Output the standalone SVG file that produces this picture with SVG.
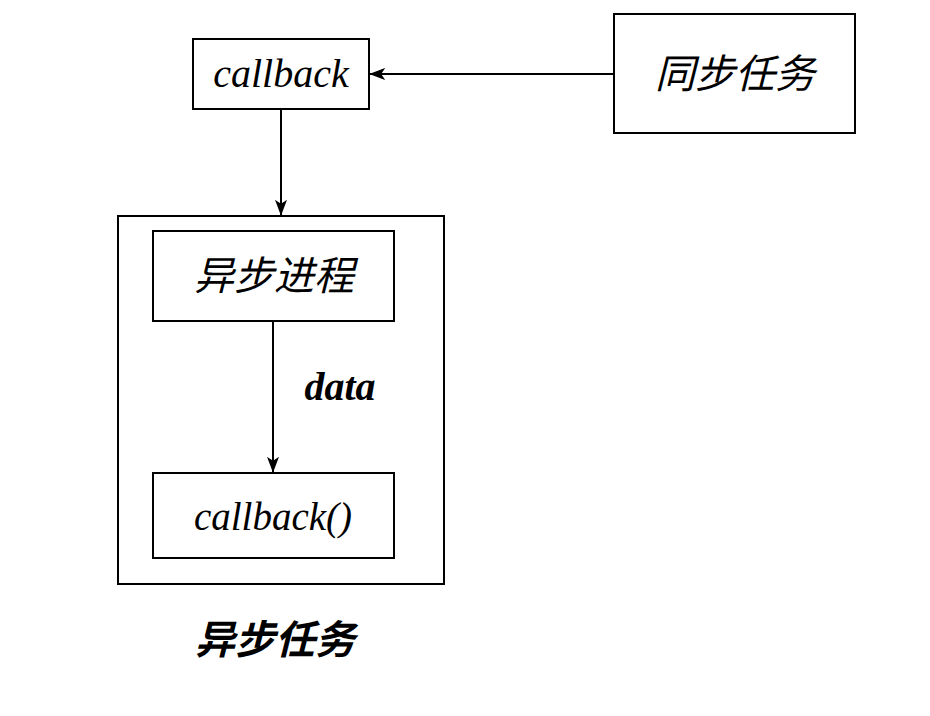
<svg xmlns="http://www.w3.org/2000/svg" width="930" height="716" viewBox="0 0 930 716">
<style>
.box{fill:#fff;stroke:#000;stroke-width:2}
.edge{fill:none;stroke:#000;stroke-width:2}
.serif{font-family:"Liberation Serif","Times New Roman",serif;font-style:italic;fill:#000}
.cjk{font-family:"Noto Sans CJK SC","Noto Sans",sans-serif;font-style:italic;fill:#000}
</style>
<defs>
<marker id="arr" viewBox="0 0 20 20" refX="19" refY="10" markerWidth="16" markerHeight="16" markerUnits="userSpaceOnUse" orient="auto">
<path d="M0,2.5 L20,10 L0,17.5 L5,10 Z" fill="#000"/>
</marker>
</defs>
<rect width="930" height="716" fill="#fff"/>
<g id="async-task">
<rect class="box" x="118" y="216" width="326" height="368"/>
<text class="cjk" x="275" y="654" font-size="40" font-weight="bold" text-anchor="middle">异步任务</text>
</g>
<g id="callback">
<rect class="box" x="193" y="39" width="176" height="70"/>
<text class="serif" x="281" y="87" font-size="40" text-anchor="middle">callback</text>
</g>
<g id="sync-task">
<rect class="box" x="614" y="14" width="241" height="119"/>
<text class="cjk" x="735" y="88" font-size="40" text-anchor="middle">同步任务</text>
</g>
<g id="async-process">
<rect class="box" x="153" y="231" width="241" height="90"/>
<text class="cjk" x="274" y="290" font-size="40" text-anchor="middle">异步进程</text>
</g>
<g id="callback-call">
<rect class="box" x="153" y="473" width="241" height="85"/>
<text class="serif" x="273" y="530" font-size="39" text-anchor="middle">callback()</text>
</g>
<g id="connectors">
<path class="edge" d="M614,74 L370,74" marker-end="url(#arr)"/>
<path class="edge" d="M281,109 L281,215" marker-end="url(#arr)"/>
<path class="edge" d="M273,321 L273,472" marker-end="url(#arr)"/>
<text class="serif" x="340" y="400" font-size="40" font-weight="bold" text-anchor="middle">data</text>
</g>
</svg>
